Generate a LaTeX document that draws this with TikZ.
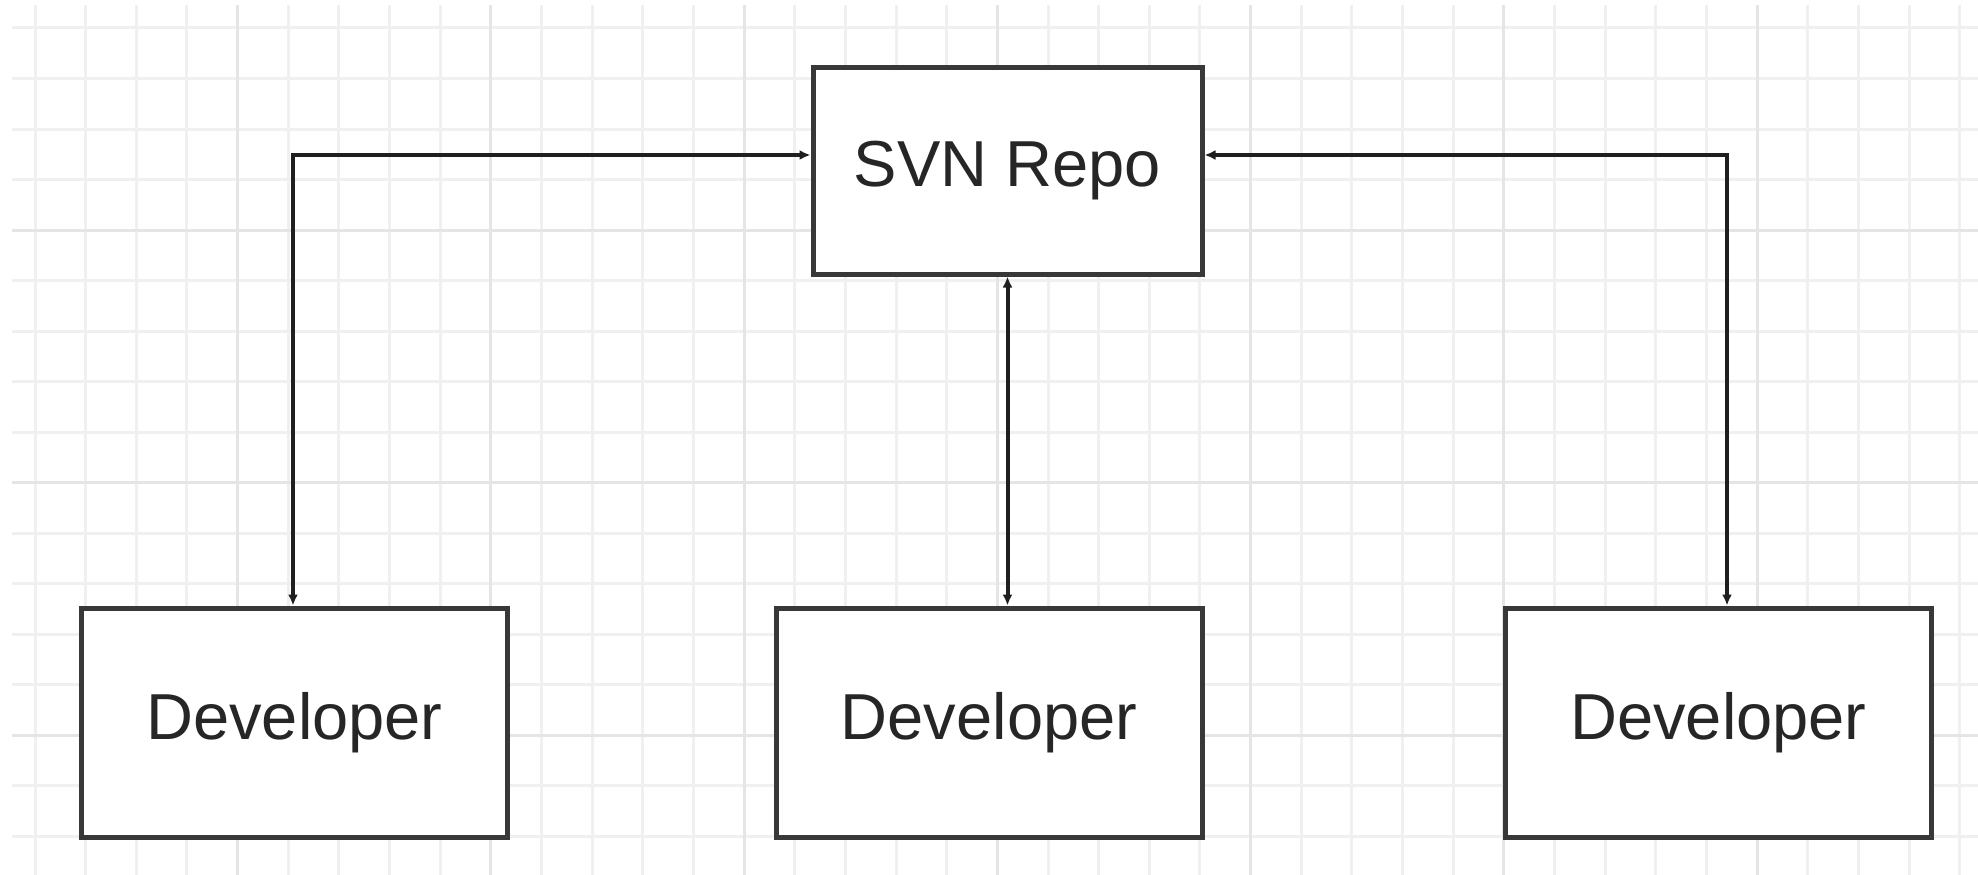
\documentclass[tikz,border=0pt]{standalone}
\usepackage{fontspec}
\setmainfont{Liberation Sans}
\usepackage{xcolor}
\usetikzlibrary{positioning,calc,arrows,arrows.meta}

\begin{document}
\begin{tikzpicture}[x=1pt,y=-1pt,
		box/.style={draw=black!78,line width=5pt,fill=white,text=black!85,
			font=\fontsize{65}{78}\selectfont,inner sep=0pt,
			minimum width=426pt,minimum height=229pt},
		link/.style={black!88,line width=4pt,<->,>={Latex[length=11pt,width=10pt]}}]
		
		\useasboundingbox (0,0) rectangle (1978,875);
		\fill[white] (0,0) rectangle (1978,875);
		
		% grid
		\foreach \k in {0,...,38}
			\draw[gray!12,line width=3pt] ({35+50.65*\k},5) -- ({35+50.65*\k},875);
		\foreach \k in {0,...,16}
			\draw[gray!12,line width=3pt] (12,{28+50.5*\k}) -- (1978,{28+50.5*\k});
		\foreach \k in {4,9,...,34}
			\draw[gray!20,line width=3pt] ({35+50.65*\k},5) -- ({35+50.65*\k},875);
		\foreach \k in {4,9,14}
			\draw[gray!20,line width=3pt] (12,{28+50.5*\k}) -- (1978,{28+50.5*\k});
		
		% boxes
		\node[box,minimum width=389pt,minimum height=206pt] (repo) at (1007.5,171) {SVN Repo};
		\node[box] (dev1) at (294.5,722.5) {Developer};
		\node[box] (dev2) at (989,722.5) {Developer};
		\node[box] (dev3) at (1718.5,722.5) {Developer};
		
		% connectors
		\draw[link] ([yshift=16pt]repo.west) -| ([xshift=-1.5pt]dev1.north);
		\draw[link] ([yshift=16pt]repo.east) -| ([xshift=8.5pt]dev3.north);
		\draw[link] (repo.south) -- (repo.south |- dev2.north);
\end{tikzpicture}
\end{document}
